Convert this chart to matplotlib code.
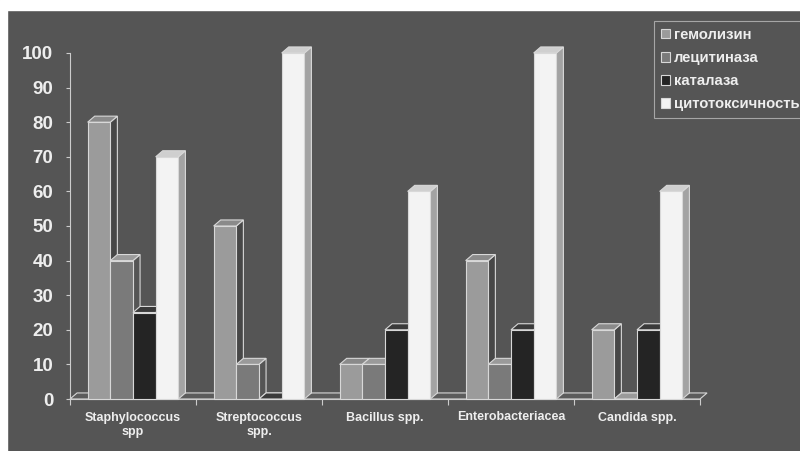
import numpy as np
import matplotlib.pyplot as plt
from matplotlib.patches import Polygon, Rectangle

# data (%)
categories = ['Staphylococcus\nspp', 'Streptococcus\nspp.', 'Bacillus spp.',
              'Enterobacteriacea', 'Candida spp.']
series = ['гемолизин', 'лецитиназа', 'каталаза', 'цитотоксичность']
hemolysin = [80, 50, 10, 40, 20]
lecithinase = [40, 10, 10, 10, 0]
catalase = [25, 0, 20, 20, 20]
cytotox = [70, 100, 60, 100, 60]
values = [hemolysin, lecithinase, catalase, cytotox]

# front / side / top face colours per series
front = ['#9b9b9b', '#7a7a7a', '#242424', '#f3f3f3']
side = ['#474747', '#555555', '#1a1a1a', '#a3a3a3']
top = ['#8a8a8a', '#9a9a9a', '#3a3a3a', '#cfcfcf']
edge = '#d8d8d8'
bg = '#555555'
txt = '#eeeeee'

plt.rcParams['font.family'] = ['Liberation Sans', 'DejaVu Sans']
plt.rcParams['font.weight'] = 'bold'

W, H = 800, 451
fig = plt.figure(figsize=(8, 4.51), dpi=100, facecolor=bg)
# white margins on top and left
fig.patches.append(Rectangle((0, 1 - 10 / H), 1, 10 / H, transform=fig.transFigure,
                             color='white', zorder=0))
fig.patches.append(Rectangle((0, 0), 7 / W, 1, transform=fig.transFigure,
                             color='white', zorder=0))

ax = fig.add_axes([70 / W, (H - 399) / H, 630 / W, 346 / H])
ax.set_facecolor('none')
ax.set_xlim(-0.5, 4.5)
ax.set_ylim(0, 100)

x = np.arange(len(categories))
w = 0.18
dx, dy = 0.056, 1.75

# floor
floor = Polygon([(-0.5, 0), (4.5, 0), (4.5 + dx, dy), (-0.5 + dx, dy)],
                closed=True, facecolor='#5c5c5c', edgecolor=edge, lw=0.8,
                zorder=1, clip_on=False)
ax.add_patch(floor)

for i, vals in enumerate(values):
    xs = x + (i - 1.5) * w
    for xc, v in zip(xs, vals):
        l, r = xc - w / 2, xc + w / 2
        ax.add_patch(Polygon([(r, 0), (r + dx, dy), (r + dx, v + dy), (r, v)],
                             closed=True, facecolor=side[i], edgecolor=edge,
                             lw=0.8, zorder=2 + 2 * i, clip_on=False))
        ax.add_patch(Polygon([(l, v), (l + dx, v + dy), (r + dx, v + dy), (r, v)],
                             closed=True, facecolor=top[i], edgecolor=edge,
                             lw=0.8, zorder=2 + 2 * i, clip_on=False))
    ax.bar(xs, vals, width=w, color=front[i], edgecolor=edge, lw=0.8,
           zorder=3 + 2 * i, label=series[i], clip_on=False)

for s in ['top', 'right']:
    ax.spines[s].set_visible(False)
for s in ['left', 'bottom']:
    ax.spines[s].set_color('#cccccc')
    ax.spines[s].set_linewidth(0.8)

ax.set_yticks(np.arange(0, 101, 10))
ax.tick_params(axis='y', colors='#cccccc', labelcolor=txt, length=3,
               width=0.8, pad=9, labelsize=13.5)
ax.set_xticks(np.arange(-0.5, 4.6, 1))
ax.set_xticklabels([])
ax.tick_params(axis='x', which='major', colors='#cccccc', length=4, width=0.8)
ax.set_xticks(x, minor=True)
ax.set_xticklabels(categories, minor=True)
ax.tick_params(axis='x', which='minor', length=0, pad=9, labelsize=9,
               labelcolor=txt)
for t in ax.get_xticklabels(minor=True):
    t.set_linespacing(1.25)

leg = fig.legend(loc='upper left', bbox_to_anchor=(654 / W, 1 - 21 / H),
                 frameon=True, fancybox=False, facecolor=bg, edgecolor='#bbbbbb',
                 fontsize=10.7, labelcolor=txt, handlelength=0.65, handleheight=0.65,
                 handletextpad=0.25, labelspacing=0.62, borderpad=0.45,
                 borderaxespad=0)
leg.get_frame().set_linewidth(0.8)

fig.savefig('out.png', dpi=100, facecolor=fig.get_facecolor())
